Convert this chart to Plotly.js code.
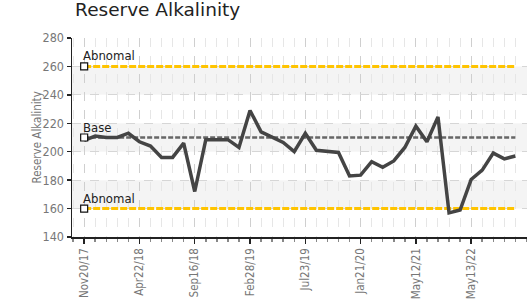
<!DOCTYPE html>
<html>
<head>
<meta charset="utf-8">
<script src="https://cdn.plot.ly/plotly-3.0.1.min.js"></script>
<style>html,body{margin:0;padding:0;background:#fff;}#chart{width:529px;height:301px;}</style>
</head>
<body>
<div id="chart"></div>
<script>
// Reading values (one per sample, in order)
var readings = [208, 211, 210, 210, 213, 207, 204, 196, 196, 206,
                172, 208.5, 208.5, 208.5, 203, 229, 214, 210.5, 206.5, 200,
                213, 201, 200, 199.5, 183, 183.5, 193, 189, 193.5, 203,
                218, 207, 224.5, 157, 159, 180.5, 187, 199, 195, 197];
var tickLabels = ["Nov20/17", "Apr22/18", "Sep16/18", "Feb28/19", "Jul23/19", "Jan21/20", "May12/21", "May13/22"];
var tickIndex = [0, 5, 10, 15, 20, 25, 30, 35];
var abnormalHigh = 260;
var abnormalLow = 160;
var baseValue = 210;
var refLabels = ["Abnomal", "Base", "Abnomal"];
var refValues = [abnormalHigh, baseValue, abnormalLow];

var idx = readings.map(function(_, i){ return i; });
function flat(v){ return idx.map(function(){ return v; }); }

var condensed = "DejaVu Sans Condensed, Liberation Sans Narrow, sans-serif";

var traces = [
  {x: idx, y: flat(abnormalHigh), mode: 'lines', line: {color: '#ffc400', width: 3, dash: '7px,2px'}, hoverinfo: 'skip'},
  {x: idx, y: flat(abnormalLow), mode: 'lines', line: {color: '#ffc400', width: 3, dash: '7px,2px'}, hoverinfo: 'skip'},
  {x: idx, y: flat(baseValue), mode: 'lines', line: {color: '#666', width: 2.5, dash: '5px,2px'}, hoverinfo: 'skip'},
  {x: idx, y: readings, mode: 'lines', line: {color: '#444', width: 3.5}},
  {x: refValues.map(function(){ return 0; }), y: refValues, mode: 'markers',
   marker: {symbol: 'square', size: 7, color: '#fff', line: {color: '#111', width: 1.2}}, cliponaxis: false}
];

var bands = [[240, 260], [200, 220], [160, 180]].map(function(b){
  return {type: 'rect', xref: 'paper', yref: 'y', x0: 0, x1: 1, y0: b[0], y1: b[1],
          fillcolor: '#f4f4f4', line: {width: 0}, layer: 'below'};
});

var annotations = refValues.map(function(v, i){
  return {x: 0, y: v, xref: 'x', yref: 'y', text: refLabels[i], showarrow: false,
          xanchor: 'left', yanchor: 'bottom', xshift: -3, yshift: 1,
          font: {family: condensed, size: 13, color: '#222'}};
});
annotations.push({x: 0, y: 0.5, xref: 'paper', yref: 'paper', xshift: -36, text: 'Reserve Alkalinity',
  textangle: -90, showarrow: false, xanchor: 'center', yanchor: 'middle',
  font: {family: condensed, size: 11.5, color: '#777'}});

var layout = {
  width: 529, height: 301,
  margin: {l: 72, r: 2, t: 38, b: 64},
  paper_bgcolor: '#fff', plot_bgcolor: '#fff',
  showlegend: false,
  title: {text: 'Reserve Alkalinity', x: 0.142, xanchor: 'left', y: 0.99, yanchor: 'top',
          font: {family: 'DejaVu Sans, sans-serif', size: 18.5, color: '#222'}},
  shapes: bands,
  annotations: annotations,
  xaxis: {
    range: [-1.1, 40.05], tickmode: 'array', tickvals: tickIndex, ticktext: tickLabels,
    tickangle: -90, ticks: 'outside', ticklen: 5, tickwidth: 1.5, tickcolor: '#222',
    showline: true, linecolor: '#222', linewidth: 1.5,
    showgrid: true, gridcolor: '#cfcfcf', griddash: 'dash', gridwidth: 1,
    minor: {tickmode: 'linear', tick0: 0, dtick: 1, ticks: 'outside', ticklen: 3, tickcolor: '#888',
            showgrid: true, gridcolor: '#e6e6e6', griddash: 'dash'},
    tickfont: {family: condensed, size: 11.5, color: '#777'},
    zeroline: false, fixedrange: true
  },
  yaxis: {
    range: [140, 280], tickmode: 'linear', tick0: 140, dtick: 20,
    ticks: 'outside', ticklen: 4, tickwidth: 1.5, tickcolor: '#222',
    showline: true, linecolor: '#222', linewidth: 1.5,
    showgrid: true, gridcolor: '#d6d6d6', griddash: 'dash',
    tickfont: {family: condensed, size: 12.5, color: '#777'},
    zeroline: false, fixedrange: true
  }
};

Plotly.newPlot('chart', traces, layout, {displayModeBar: false, staticPlot: true});
</script>
</body>
</html>
